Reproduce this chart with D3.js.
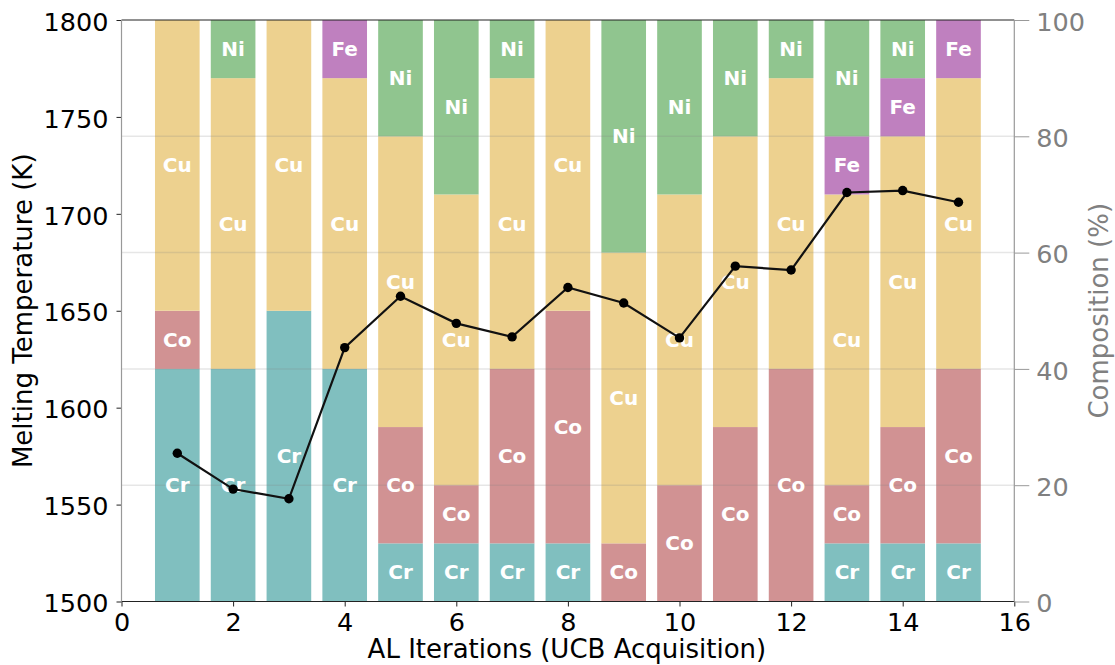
<!DOCTYPE html>
<html>
<head>
<meta charset="utf-8">
<script src="https://cdn.jsdelivr.net/npm/d3@7"></script>
<style>
  html, body { margin: 0; padding: 0; background: #fff; }
  svg { display: block; font-family: "DejaVu Sans", sans-serif; }
</style>
</head>
<body>
<svg id="chart" width="1115" height="665"></svg>
<script>
// ---- data ----
const iterations = [1, 2, 3, 4, 5, 6, 7, 8, 9, 10, 11, 12, 13, 14, 15];
const elements = ["Cr", "Co", "Cu", "Fe", "Ni"];
const crValues = [40, 40, 50, 40, 10, 10, 10, 10, 0, 0, 0, 0, 10, 10, 10];
const coValues = [10, 0, 0, 0, 20, 10, 30, 40, 10, 20, 30, 40, 10, 20, 30];
const cuValues = [50, 50, 50, 50, 50, 50, 50, 50, 50, 50, 50, 50, 50, 50, 50];
const feValues = [0, 0, 0, 10, 0, 0, 0, 0, 0, 0, 0, 0, 10, 10, 10];
const niValues = [0, 10, 0, 0, 20, 30, 10, 0, 40, 30, 20, 10, 20, 10, 0];
const meltingTemps = [1576.5, 1558, 1553, 1631, 1657.5, 1643.5, 1636.5, 1662, 1654, 1636, 1673, 1671, 1711, 1712, 1706];
const xTicks = [0, 2, 4, 6, 8, 10, 12, 14, 16];
const leftTicks = [1500, 1550, 1600, 1650, 1700, 1750, 1800];
const rightTicks = [0, 20, 40, 60, 80, 100];
const gridTicks = [20, 40, 60, 80];

const colors = { Cr: "#80bfbf", Co: "#d19293", Cu: "#edd18f", Fe: "#bf80bf", Ni: "#90c58f" };

// ---- layout ----
const L = 121.5, R = 1014.3, T = 20, B = 601.5;
const svg = d3.select("#chart");

const x = d3.scaleLinear().domain([0, 16]).range([L, R]);
const yL = d3.scaleLinear().domain([1500, 1800]).range([B, T]);
const yR = d3.scaleLinear().domain([0, 100]).range([B, T]);

const seriesByEl = { Cr: crValues, Co: coValues, Cu: cuValues, Fe: feValues, Ni: niValues };
const table = iterations.map((it, i) => {
  const row = { iter: it };
  elements.forEach(e => row[e] = seriesByEl[e][i]);
  return row;
});
const stacked = d3.stack().keys(elements)(table);
const bw = x(0.8) - x(0);

// bars
const gBars = svg.append("g");
stacked.forEach(layer => {
  gBars.selectAll(null)
    .data(layer.filter(d => d[1] - d[0] > 0))
    .join("rect")
    .attr("x", d => x(d.data.iter) - bw / 2)
    .attr("width", bw)
    .attr("y", d => yR(d[1]))
    .attr("height", d => yR(d[0]) - yR(d[1]))
    .attr("fill", colors[layer.key]);
});

// grid lines (right axis)
svg.append("g").selectAll("line")
  .data(gridTicks).join("line")
  .attr("x1", L).attr("x2", R)
  .attr("y1", d => yR(d)).attr("y2", d => yR(d))
  .attr("stroke", "#808080").attr("stroke-opacity", 0.2).attr("stroke-width", 1.5);

// segment labels
const gLab = svg.append("g");
stacked.forEach(layer => {
  gLab.selectAll(null)
    .data(layer.filter(d => d[1] - d[0] > 0))
    .join("text")
    .attr("x", d => x(d.data.iter))
    .attr("y", d => yR((d[0] + d[1]) / 2) + 7)
    .attr("text-anchor", "middle")
    .attr("fill", "#fff")
    .attr("font-weight", "bold")
    .attr("font-size", "20px")
    .text(layer.key);
});

// melting temperature line
const line = d3.line().x((d, i) => x(iterations[i])).y(d => yL(d));
svg.append("path")
  .datum(meltingTemps)
  .attr("d", line)
  .attr("fill", "none")
  .attr("stroke", "#111")
  .attr("stroke-width", 2.2);
svg.append("g").selectAll("circle")
  .data(meltingTemps).join("circle")
  .attr("cx", (d, i) => x(iterations[i]))
  .attr("cy", d => yL(d))
  .attr("r", 4.7)
  .attr("fill", "#000");

// axes
const fs = "25.5px";
const axB = svg.append("g").attr("transform", `translate(0,${B})`)
  .call(d3.axisBottom(x).tickValues(xTicks).tickFormat(d3.format("d")).tickSize(5).tickPadding(6).tickSizeOuter(0));
axB.select(".domain").remove();
axB.selectAll("text").attr("font-size", fs).attr("fill", "#000").attr("font-family", "DejaVu Sans");
axB.selectAll("line").attr("stroke", "#222");

const axL = svg.append("g").attr("transform", `translate(${L},0)`)
  .call(d3.axisLeft(yL).tickValues(leftTicks).tickFormat(d3.format("d")).tickSize(5).tickPadding(8).tickSizeOuter(0));
axL.select(".domain").remove();
axL.selectAll("text").attr("font-size", fs).attr("fill", "#000").attr("font-family", "DejaVu Sans").attr("dy", "0.4em");
axL.selectAll("line").attr("stroke", "#222");

const axR = svg.append("g").attr("transform", `translate(${R},0)`)
  .call(d3.axisRight(yR).tickValues(rightTicks).tickFormat(d3.format("d")).tickSize(15).tickPadding(7).tickSizeOuter(0));
axR.select(".domain").remove();
axR.selectAll("text").attr("font-size", fs).attr("fill", "#808080").attr("font-family", "DejaVu Sans").attr("dy", "0.4em");
axR.selectAll("line").attr("stroke", "#999");

// spines
const sp = svg.append("g").attr("fill", "none");
sp.append("line").attr("x1", L).attr("x2", R).attr("y1", T).attr("y2", T).attr("stroke", "#222").attr("stroke-width", 1);
sp.append("line").attr("x1", L).attr("x2", R).attr("y1", B).attr("y2", B).attr("stroke", "#222").attr("stroke-width", 1);
sp.append("line").attr("x1", L).attr("x2", L).attr("y1", T).attr("y2", B).attr("stroke", "#999").attr("stroke-width", 1.2);
sp.append("line").attr("x1", R).attr("x2", R).attr("y1", T).attr("y2", B).attr("stroke", "#999").attr("stroke-width", 1.2);

// axis titles
svg.append("text")
  .attr("x", (L + R) / 2 - 1).attr("y", 658)
  .attr("text-anchor", "middle").attr("font-size", "26px").attr("fill", "#000")
  .text("AL Iterations (UCB Acquisition)");
svg.append("text")
  .attr("transform", `translate(32,${(T + B) / 2}) rotate(-90)`)
  .attr("text-anchor", "middle").attr("font-size", "26px").attr("fill", "#000")
  .text("Melting Temperature (K)");
svg.append("text")
  .attr("transform", `translate(1108,${(T + B) / 2}) rotate(-90)`)
  .attr("text-anchor", "middle").attr("font-size", "26px").attr("fill", "#808080")
  .text("Composition (%)");
</script>
</body>
</html>
